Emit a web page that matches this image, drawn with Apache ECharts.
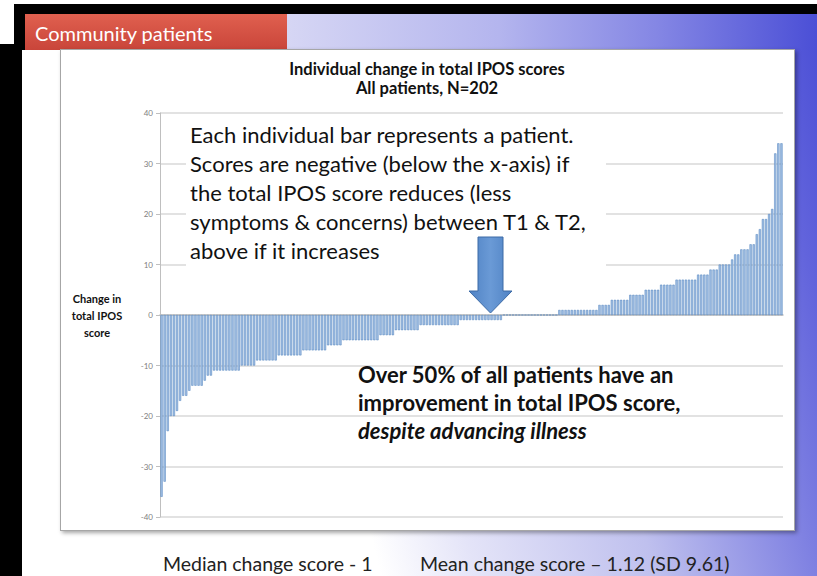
<!DOCTYPE html>
<html>
<head>
<meta charset="utf-8">
<title>Community patients - change in total IPOS scores</title>
<script src="https://cdn.jsdelivr.net/npm/echarts@6/dist/echarts.min.js"></script>
<style>
  html, body { margin: 0; padding: 0; background: #fff; }
  #slide { position: relative; width: 817px; height: 576px; overflow: hidden; background: #fff; }
  .blk { position: absolute; background: #000; }
  #backdrop {
    position: absolute; left: 22px; top: 14px; width: 795px; height: 562px;
    background: linear-gradient(75deg, #ffffff 0%, #ffffff 38%, #e4e4f8 48%, #bfc0ee 67%, #7b7de1 85%, #6264dc 92%, #4a4ed5 100%);
  }
  #topband {
    position: absolute; left: 287px; top: 14px; width: 530px; height: 36px;
    background: linear-gradient(to right, #d6d6f4 0%, #b4b5ee 40%, #8486e4 70%, #4b4fd6 100%);
  }
  #titlebar {
    position: absolute; left: 25px; top: 14px; width: 262px; height: 36px;
    background: linear-gradient(#e0604f, #c9453a);
  }
  #chartbox {
    position: absolute; left: 60px; top: 49px; width: 733px; height: 480px;
    background: #fff; border: 1px solid #a6a6a6;
    box-shadow: 2px 2px 4px rgba(0, 0, 0, 0.35);
  }
  #chart { position: absolute; left: 0; top: 0; width: 817px; height: 576px; }
</style>
</head>
<body>
<div id="slide">
  <div id="backdrop"></div>
  <div id="topband"></div>
  <div class="blk" style="left:14px;top:4px;width:803px;height:10px"></div>
  <div class="blk" style="left:14px;top:4px;width:11px;height:46px"></div>
  <div class="blk" style="left:0;top:44px;width:25px;height:3px"></div>
  <div class="blk" style="left:0;top:46px;width:22px;height:530px"></div>
  <div id="titlebar"></div>
  <div id="chartbox"></div>
  <div id="chart"></div>
</div>
<script>
// 每位患者 T1->T2 的 IPOS 总分变化（已排序）
const improvedScores = [
  -36, -33, -23, -20, -20, -19, -17, -16, -16, -15,
  -14, -14, -14, -14, -13, -12, -12, -11, -11, -11,
  -11, -11, -11, -11, -11, -11, -10, -10, -10, -10,
  -10, -9, -9, -9, -9, -9, -9, -9, -8, -8,
  -8, -8, -8, -8, -8, -8, -7, -7, -7, -7,
  -7, -7, -7, -7, -6, -6, -6, -6, -6, -5,
  -5, -5, -5, -5, -5, -5, -5, -5, -5, -5,
  -5, -4, -4, -4, -4, -4, -3, -3, -3, -3,
  -3, -3, -3, -3, -2, -2, -2, -2, -2, -2,
  -2, -2, -2, -2, -2, -2, -2, -1, -1, -1,
  -1, -1, -1, -1, -1, -1, -1, -1, -1, -1,
  -1
];
const unchangedScores = [0, 0, 0, 0, 0, 0, 0, 0, 0, 0, 0, 0, 0, 0, 0, 0, 0, 0];
const worsenedScores = [
  1, 1, 1, 1, 1, 1, 1, 1, 1, 1, 1, 1, 1,
  2, 2, 2, 2,
  3, 3, 3, 3, 3, 3,
  4, 4, 4, 4, 4,
  5, 5, 5, 5, 5,
  6, 6, 6, 6, 6,
  7, 7, 7, 7, 7, 7, 7,
  8, 8, 8, 8,
  9, 9, 9,
  10, 10, 10, 10,
  11, 12, 12, 13, 13, 13, 14, 14, 16, 17, 19, 19, 20, 21, 32, 34, 34
];
const yTicks = [-40, -30, -20, -10, 0, 10, 20, 30, 40];
const chartTitle = ['Individual change in total IPOS scores', 'All patients, N=202'];
const yAxisTitle = ['Change in', 'total IPOS', 'score'];
const noteLines = [
  'Each individual bar represents a patient.',
  'Scores are negative (below the x-axis) if',
  'the total IPOS score reduces (less',
  'symptoms & concerns) between T1 & T2,',
  'above if it increases'
];
const summaryLines = [
  'Over 50% of all patients have an',
  'improvement in total IPOS score,',
  'despite advancing illness'
];
const footerTexts = ['Median change score - 1', 'Mean change score \u2013 1.12 (SD 9.61)'];

const scoreChange = improvedScores.concat(unchangedScores, worsenedScores);
const patientIds = scoreChange.map((_, i) => String(i + 1));

const FONT = 'Lato, "Open Sans", sans-serif';

const myChart = echarts.init(document.getElementById('chart'), null, { renderer: 'svg' });

function txt(x, y, text, font, extra) {
  return {
    type: 'text', x: x, y: y, z: 10,
    style: Object.assign({ text: text, font: font, fill: '#111', textVerticalAlign: 'middle' }, extra || {})
  };
}

const option = {
  animation: false,
  grid: { left: 160, right: 34, top: 113, bottom: 59 },
  xAxis: {
    type: 'category',
    data: patientIds,
    axisLine: { onZero: true, lineStyle: { color: '#bfbfbf', width: 1.5 } },
    axisTick: { show: false },
    axisLabel: { show: false },
    splitLine: { show: false }
  },
  yAxis: {
    type: 'value',
    min: yTicks[0],
    max: yTicks[yTicks.length - 1],
    interval: 10,
    axisLine: { show: true, lineStyle: { color: '#bfbfbf', width: 1 } },
    axisTick: { show: true, length: 4, lineStyle: { color: '#bfbfbf' } },
    axisLabel: { fontSize: 8, color: '#808080', margin: 7, fontFamily: FONT },
    splitLine: { lineStyle: { color: '#d9d9d9', width: 1.5 } }
  },
  series: [{
    type: 'bar',
    data: scoreChange,
    barCategoryGap: '28%',
    itemStyle: { color: '#a2bfe4', borderColor: '#4f81bd', borderWidth: 0.5 }
  }],
  graphic: [
    // 标题栏文字
    txt(35, 33, 'Community patients', '20px ' + FONT, { fill: '#fff' }),
    // 图表标题
    txt(427, 69, chartTitle[0], 'bold 16.5px ' + FONT, { textAlign: 'center' }),
    txt(427, 88, chartTitle[1], 'bold 16.5px ' + FONT, { textAlign: 'center' }),
    // y轴标题
    ...yAxisTitle.map((s, i) => txt(97, 298 + i * 17, s, 'bold 11px ' + FONT, { textAlign: 'center' })),
    // 说明文本框（遮住网格线）
    { type: 'rect', z: 1, shape: { x: 186, y: 119, width: 420, height: 149 }, style: { fill: '#fff' } },
    ...noteLines.map((s, i) => txt(190, 134 + i * 29, s, '22px ' + FONT)),
    // 箭头
    {
      type: 'polygon', z: 9,
      shape: { points: [[478, 237], [503, 237], [503, 291], [512, 291], [490.5, 313], [469, 291], [478, 291]] },
      style: {
        fill: new echarts.graphic.LinearGradient(0, 0, 1, 0, [
          { offset: 0, color: '#4f82c4' },
          { offset: 0.5, color: '#6a9ad6' },
          { offset: 1, color: '#4f82c4' }
        ]),
        stroke: '#3d6ba6', lineWidth: 1
      }
    },
    // 结论文字
    txt(358, 374, summaryLines[0], 'bold 22px ' + FONT),
    txt(358, 402, summaryLines[1], 'bold 22px ' + FONT),
    txt(358, 430, summaryLines[2], 'italic bold 22px ' + FONT),
    // 底部统计
    txt(163, 563, footerTexts[0], '19.5px ' + FONT, { fill: '#222' }),
    txt(420, 563, footerTexts[1], '19.5px ' + FONT, { fill: '#222' })
  ]
};

myChart.setOption(option);
</script>
</body>
</html>
